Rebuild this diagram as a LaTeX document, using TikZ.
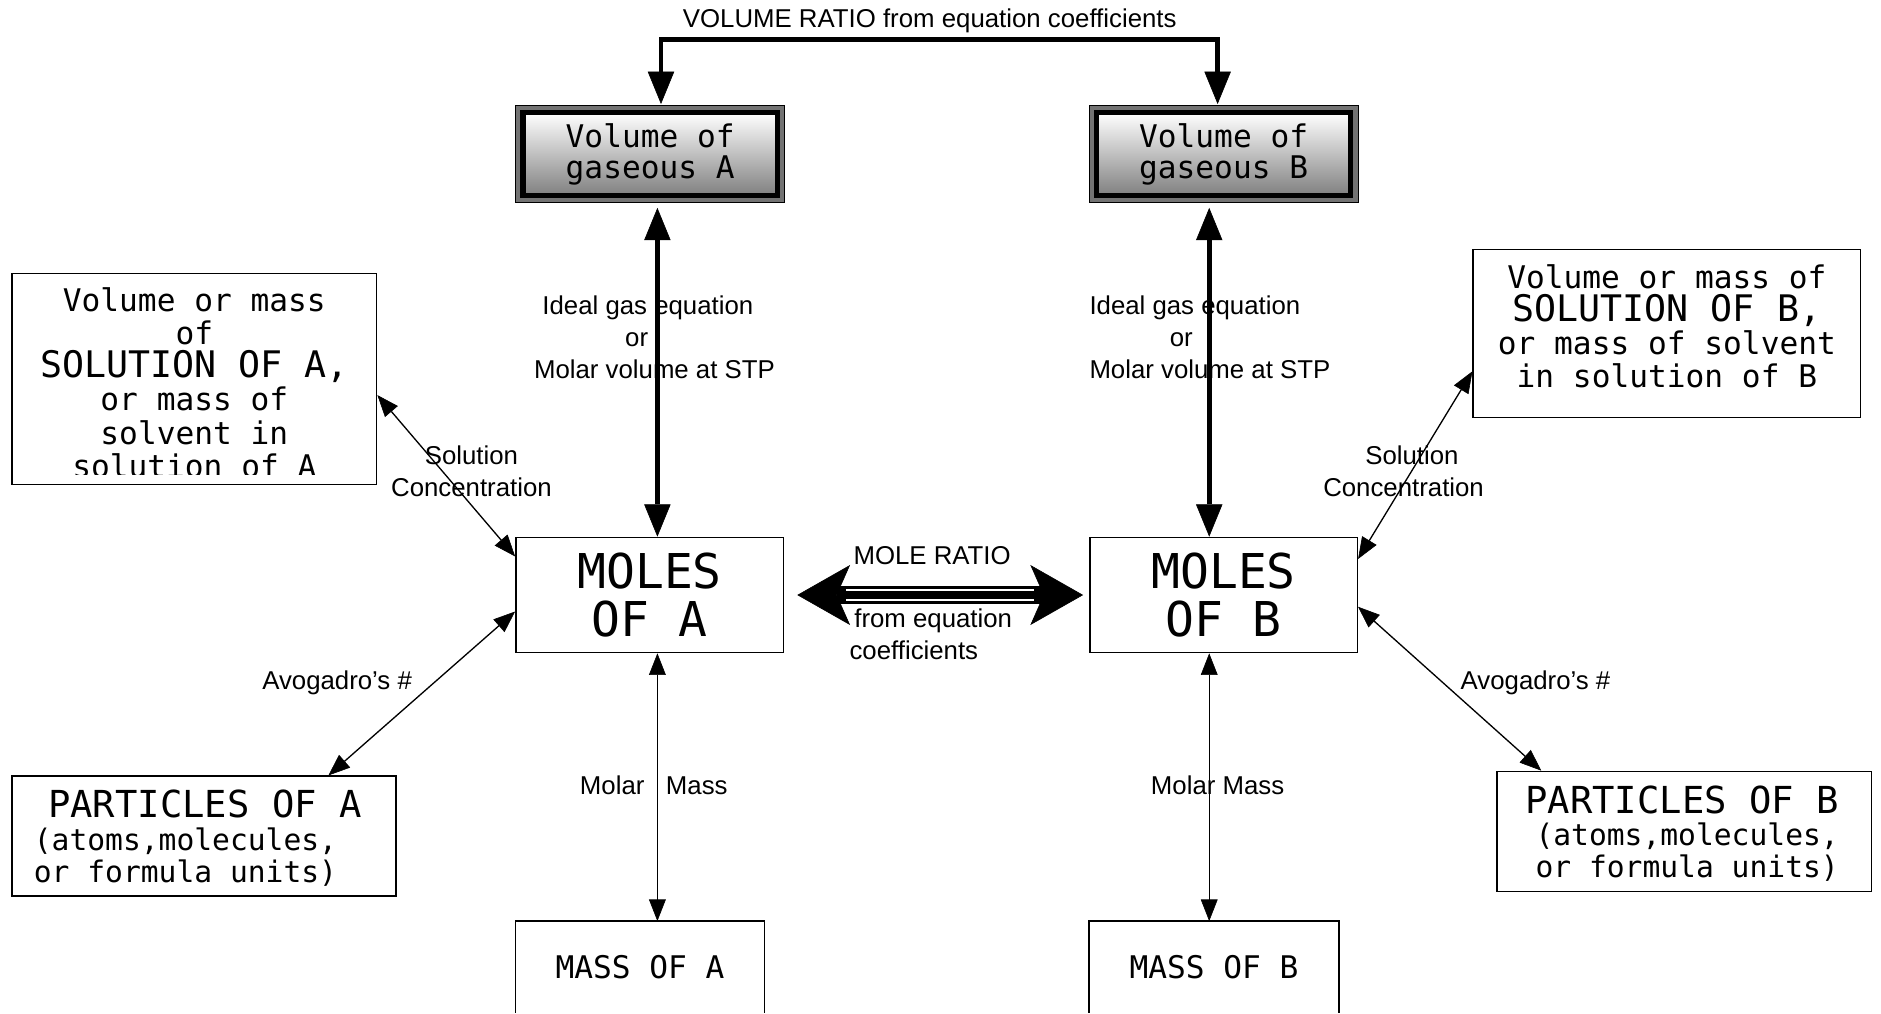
\documentclass[tikz,border=0pt]{standalone}
\usepackage{fontspec}
\setmainfont{Liberation Sans}
\newfontfamily\monobox{DejaVu Sans Mono}
\usetikzlibrary{arrows.meta}

\begin{document}
\begin{tikzpicture}[x=1pt,y=-1pt,
plainbox/.style={rectangle, draw, line width=1.2pt, inner sep=0pt, align=center},
gasbox/.style={rectangle, draw, line width=4.5pt, top color=white, bottom color=black!50, minimum width=212, minimum height=69, inner sep=0pt, align=center, font=\monobox\fontsize{26}{26}\selectfont},
molebox/.style={plainbox, minimum width=223, minimum height=96, font=\monobox\fontsize{40}{40}\selectfont},
massbox/.style={rectangle, inner sep=0pt, minimum width=207, minimum height=76, font=\monobox\fontsize{26}{26}\selectfont},
solbox/.style={plainbox, font=\monobox\fontsize{26}{27.6}\selectfont},
partbox/.style={plainbox, minimum height=100},
parttext/.style={inner sep=0pt, font=\monobox\fontsize{24.7}{27}\selectfont},
linktext/.style={inner sep=0pt, align=center, font=\fontsize{21.5}{26.5}\selectfont},
fatarrow/.style={line width=4pt, <->, >={Triangle[length=27pt,width=22pt,line width=0.5pt]}},
linkarrow/.style={line width=1.1pt, <->, >={Triangle[length=18pt,width=14pt,line width=0.5pt]}},
ratioarrow/.style={line width=15pt, {Stealth[length=44pt,width=50pt,inset=11pt,line width=0.5pt]}-{Stealth[length=44pt,width=50pt,inset=11pt,line width=0.5pt]}},
ratiostripes/.style={draw=white, line width=2pt, double=black, double distance=6pt},
]
\useasboundingbox (0,0) rectangle (1568,845);

%Gas boxes
\draw[fill=black!55, line width=0.8pt] (430,88) rectangle (654,169);
\draw[fill=black!55, line width=0.8pt] (908,88) rectangle (1132,169);
\node[gasbox]   (volA)   at (542,128.5) {Volume of\\gaseous A};
\node[gasbox]   (volB)   at (1020,128.5) {Volume of\\gaseous B};

%Nodes
\node[molebox]  (molesA) at (541.5,496) {MOLES\\OF A};
\node[molebox]  (molesB) at (1020,496) {MOLES\\OF B};

\node[massbox]  (massA)  at (533.5,806) {MASS OF A};
\node[massbox, minimum width=208]  (massB)  at (1012,806) {MASS OF B};
\draw[line width=1.2pt] (massA.south west) -- (massA.north west) -- (massA.north east) -- (massA.south east);
\draw[line width=1.2pt] (massB.south west) -- (massB.north west) -- (massB.north east) -- (massB.south east);

\node[solbox, minimum width=304, minimum height=176] (solA) at (162,316) {};
\begin{scope}
\clip (solA.north west) rectangle ([yshift=9pt]solA.south east);
\node[solbox, draw=none] (solAtext) at (162,319) {Volume or mass\\of\\{\fontsize{30.5}{27.6}\selectfont SOLUTION OF A,}\\or mass of\\solvent in\\solution of A};
\end{scope}

\node[solbox, minimum width=323, minimum height=140] (solB) at (1389.5,278) {};
\node[solbox, draw=none] (solBtext) at (1389.5,272) {Volume or mass of\\{\fontsize{30.5}{28.3}\selectfont SOLUTION OF B,}\\or mass of solvent\\in solution of B};

\node[partbox, minimum width=320] (partA) at (170,697) {};
\node[parttext, align=left, anchor=west] (partAtext) at (28,699) {\hspace*{12pt}{\fontsize{31}{27}\selectfont PARTICLES OF A}\\(atoms,molecules,\\or formula units)};
\node[partbox, minimum width=312] (partB) at (1404,693) {};
\node[parttext, align=right, anchor=east] (partBtext) at (1533,695) {{\fontsize{31}{27}\selectfont PARTICLES OF B}\\(atoms,molecules,\\or formula units)};

%Labels
\node[linktext] (volratio) at (775,17) {VOLUME RATIO from equation coefficients};
\node[linktext, align=left, anchor=west] (idealA) at (445,281) {\hspace*{7pt}Ideal gas equation\\\hspace*{76pt}or\\Molar volume at STP};
\node[linktext, align=left, anchor=west] (idealB) at (908,281) {Ideal gas equation\\\hspace*{67pt}or\\Molar volume at STP};
\node[linktext] (concA)    at (393,393) {Solution\\Concentration};
\node[linktext] (concB)    at (1170,393) {\hspace*{14pt}Solution\\Concentration};
\node[linktext] (avoA)     at (281,569) {Avogadro’s \#};
\node[linktext] (avoB)     at (1280,569) {Avogadro’s \#};
\node[linktext] (molarA)   at (545,655) {Molar\ \ \ Mass};
\node[linktext] (molarB)   at (1015,655) {Molar Mass};
\node[linktext] (ratioup)  at (777,463) {MOLE RATIO};
\node[linktext, align=left, anchor=west] (ratiodown) at (708,529) {\hspace*{4pt}from equation\\coefficients};

%Connectors
\coordinate (ratioline) at (783,33);
\draw[fatarrow, shorten <=5pt, shorten >=5pt] ([xshift=9pt]volA.north) |- (ratioline) -| ([xshift=-5pt]volB.north);
\draw[fatarrow, shorten <=8pt] ([xshift=6pt]volA.south) -- ([xshift=6.5pt]molesA.north);
\draw[fatarrow, shorten <=8pt] ([xshift=-12pt]volB.south) -- ([xshift=-12pt]molesB.north);

\draw[ratioarrow, shorten <=11pt, shorten >=5pt] (molesA.east) -- (molesB.west);
\draw[ratiostripes, shorten <=52pt, shorten >=46pt] (molesA.east) -- (molesB.west);

\draw[linkarrow] ([xshift=6.5pt]molesA.south) -- ([xshift=14.5pt]massA.north);
\draw[linkarrow] ([xshift=-12pt]molesB.south) -- ([xshift=-4pt]massB.north);
\draw[linkarrow] (solA.-5) -- (molesA.164);
\draw[linkarrow] (solB.191) -- (molesB.15);
\draw[linkarrow] (molesA.187) -- (partA.26);
\draw[linkarrow] (molesB.-5) -- (partB.157);

\end{tikzpicture}
\end{document}
